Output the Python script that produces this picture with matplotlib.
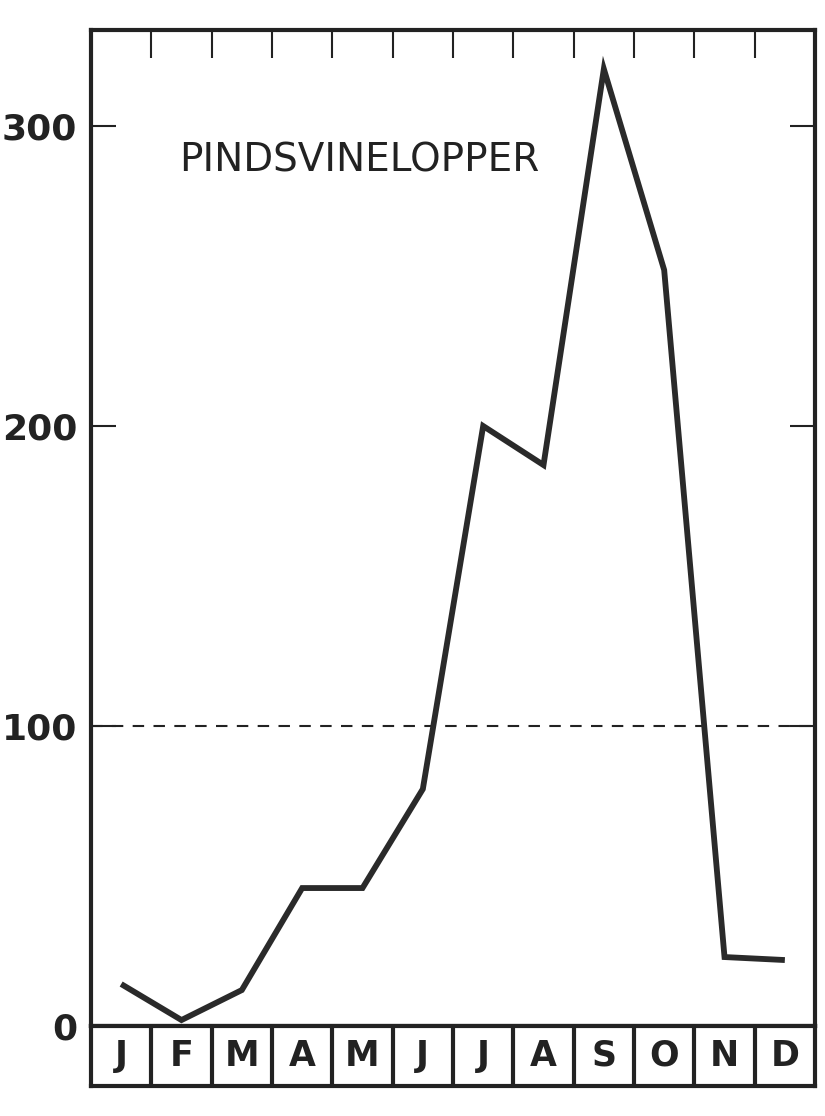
import matplotlib
matplotlib.use("Agg")
import matplotlib.pyplot as plt
import numpy as np

plt.rcParams["font.family"] = ["DejaVu Sans"]

# data (monthly counts)
MONTHS = ["J", "F", "M", "A", "M", "J", "J", "A", "S", "O", "N", "D"]
COUNTS = [14, 2, 12, 46, 46, 79, 200, 187, 319, 252, 23, 22]
Y_TICKS = [0, 100, 200, 300]
REF_LEVEL = 100
TITLE = "PINDSVINELOPPER"

INK = "#222222"

fig = plt.figure(figsize=(8.25, 11.16), dpi=100)
fig.patch.set_facecolor("white")

# main panel
ax = fig.add_axes([0.1103, 0.0806, 0.8776, 0.8925])
x = np.arange(len(MONTHS))
ax.plot(x, COUNTS, color="#2a2a2a", linewidth=4.2, solid_joinstyle="miter",
        solid_capstyle="butt", zorder=3)
ax.axhline(REF_LEVEL, color=INK, linewidth=1.5, linestyle=(0, (5.5, 4.5)), zorder=2)

ax.set_xlim(-0.5, len(MONTHS) - 0.5)
ax.set_ylim(0, 332)

for s in ax.spines.values():
    s.set_linewidth(3)
    s.set_color(INK)

ax.set_yticks(Y_TICKS)
ax.set_yticklabels([str(v) for v in Y_TICKS])
ax.tick_params(axis="y", direction="in", length=18, width=1.5, color=INK,
               left=True, right=True, labelsize=26, pad=10, labelcolor=INK)
for lab in ax.get_yticklabels():
    lab.set_fontweight("bold")
# no tick mark at zero
ax.yaxis.get_major_ticks()[0].tick1line.set_visible(False)
ax.yaxis.get_major_ticks()[0].tick2line.set_visible(False)

# month boundaries as ticks along the top
ax.set_xticks(np.arange(0.5, len(MONTHS) - 0.5, 1))
ax.tick_params(axis="x", direction="in", length=20, width=1.5, color=INK,
               top=True, bottom=False, labelbottom=False, labeltop=False)

ax.text(0.1215, 0.869, TITLE, transform=ax.transAxes, ha="left", va="center",
        fontsize=28, color=INK)

# month boxes below
axm = fig.add_axes([0.1103, 0.0269, 0.8776, 0.0538])
axm.set_xlim(-0.5, len(MONTHS) - 0.5)
axm.set_ylim(0, 1)
for s in axm.spines.values():
    s.set_linewidth(3)
    s.set_color(INK)
axm.set_xticks([])
axm.set_yticks([])
for b in np.arange(0.5, len(MONTHS) - 0.5, 1):
    axm.axvline(b, color=INK, linewidth=3)
for i, m in enumerate(MONTHS):
    axm.text(i, 0.5, m, ha="center", va="center", fontsize=25,
             fontweight="bold", color=INK)

fig.savefig("out.png", dpi=100, facecolor="white")
